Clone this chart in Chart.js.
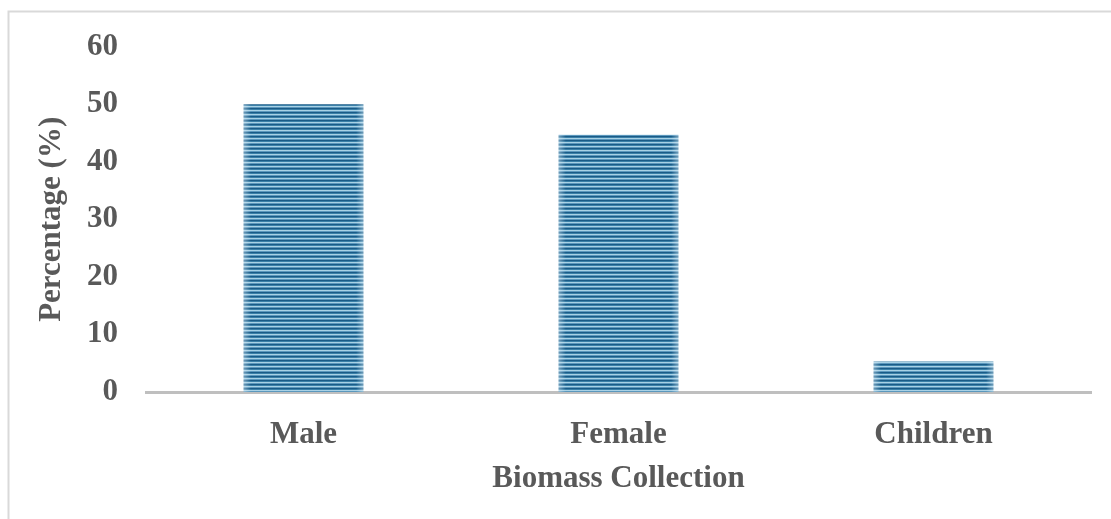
<!DOCTYPE html>
<html>
<head>
<meta charset="utf-8">
<script src="https://cdn.jsdelivr.net/npm/chart.js@4.4.1/dist/chart.umd.min.js"></script>
<style>
  html, body { margin: 0; padding: 0; background: #ffffff; }
  #wrap { width: 1111px; height: 519px; position: relative; }
</style>
</head>
<body>
<div id="wrap"><canvas id="chart" width="1111" height="519"></canvas></div>
<script>
// Share of biomass collection by group
const categories = ['Male', 'Female', 'Children'];
const percentages = [50, 44.7, 5.3];
const yTicks = [0, 10, 20, 30, 40, 50, 60];

const xTitle = 'Biomass Collection';
const yTitle = 'Percentage (%)';

const ctx0 = document.getElementById('chart').getContext('2d');

// Horizontal striped fill for the bars
const stripes = ctx0.createPattern((() => {
  const c = document.createElement('canvas');
  c.width = 8; c.height = 4;
  const g = c.getContext('2d');
  ['#1a5b87', '#3a80a8', '#a8d1e5', '#5b98bd'].forEach((col, i) => { g.fillStyle = col; g.fillRect(0, i, 8, 1); });
  return c;
})(), 'repeat');

// Light frame around the whole figure
const framePlugin = {
  id: 'frame',
  beforeDraw(chart) {
    const c = chart.ctx;
    c.save();
    c.fillStyle = '#ffffff';
    c.fillRect(0, 0, chart.width, chart.height);
    c.strokeStyle = '#d9d9d9';
    c.lineWidth = 2;
    c.beginPath();
    c.moveTo(8.5, chart.height + 2);
    c.lineTo(8.5, 11.5);
    c.lineTo(chart.width + 2, 11.5);
    c.stroke();
    c.restore();
  }
};

// Soft shading at the side edges of each bar
const edgeShade = {
  id: 'edgeShade',
  afterDatasetsDraw(chart) {
    const c = chart.ctx;
    const meta = chart.getDatasetMeta(0);
    c.save();
    meta.data.forEach(bar => {
      const left = bar.x - bar.width / 2, right = bar.x + bar.width / 2;
      const top = bar.y, h = bar.base - bar.y;
      const gr = c.createLinearGradient(left, 0, right, 0);
      gr.addColorStop(0, 'rgba(220,235,245,0.45)');
      gr.addColorStop(0.06, 'rgba(220,235,245,0)');
      gr.addColorStop(0.94, 'rgba(220,235,245,0)');
      gr.addColorStop(1, 'rgba(220,235,245,0.45)');
      c.fillStyle = gr;
      c.fillRect(left, top, right - left, h);
    });
    c.restore();
  }
};

const font = 'Liberation Serif';
const textFont = { family: font, size: 31, weight: 'bold' };

new Chart(ctx0, {
  type: 'bar',
  data: {
    labels: categories,
    datasets: [{
      data: percentages,
      backgroundColor: stripes,
      borderWidth: 0,
      categoryPercentage: 0.76,
      barPercentage: 0.5
    }]
  },
  options: {
    responsive: false,
    animation: false,
    events: [],
    layout: { padding: { left: 33, right: 20, top: 28, bottom: 21 } },
    plugins: { legend: { display: false }, tooltip: { enabled: false } },
    scales: {
      x: {
        afterFit(axis) { axis.height = 106; },
        grid: { display: false, drawTicks: false },
        border: { display: true, color: '#bfbfbf', width: 3 },
        ticks: { color: '#595959', font: textFont, padding: 24 },
        title: { display: true, text: xTitle, color: '#595959', font: textFont, padding: { top: 0, bottom: 0 } }
      },
      y: {
        min: 0, max: 60,
        afterBuildTicks(axis) { axis.ticks = yTicks.map(v => ({ value: v })); },
        afterFit(axis) { axis.width = 113; },
        grid: { display: false, drawTicks: false },
        border: { display: false },
        ticks: { color: '#595959', font: textFont, padding: 28 },
        title: { display: true, text: yTitle, color: '#595959', font: textFont, padding: { top: 0, bottom: 0 } }
      }
    }
  },
  plugins: [framePlugin, edgeShade]
});
</script>
</body>
</html>
